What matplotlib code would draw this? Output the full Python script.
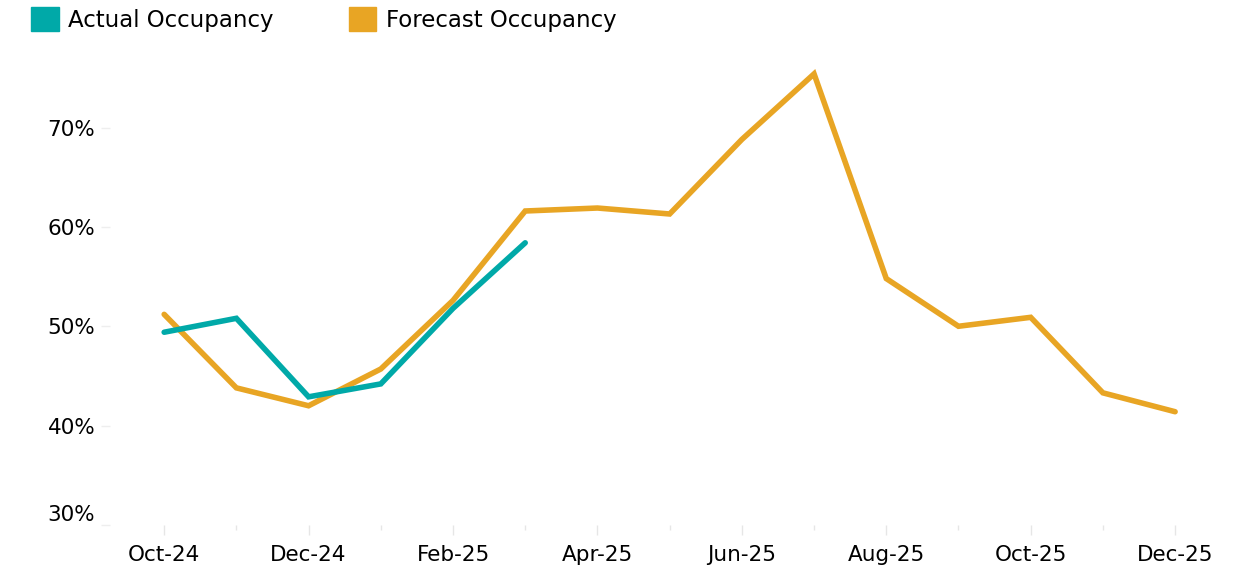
import matplotlib
matplotlib.use("Agg")
import matplotlib.pyplot as plt
from matplotlib.patches import Patch
from matplotlib.transforms import ScaledTranslation
import numpy as np

# ===============================
# Data
# ===============================
months = ["Oct-24", "Nov-24", "Dec-24", "Jan-25", "Feb-25", "Mar-25", "Apr-25",
          "May-25", "Jun-25", "Jul-25", "Aug-25", "Sep-25", "Oct-25", "Nov-25", "Dec-25"]
actual = [49.4, 50.8, 42.9, 44.2, 51.8, 58.4]
forecast = [51.2, 43.8, 42.0, 45.7, 52.6, 61.6, 61.9, 61.3, 68.8, 75.4,
            54.8, 50.0, 50.9, 43.3, 41.4]
y_ticks = [30, 40, 50, 60, 70]

TEAL = "#00A9A8"
GOLD = "#E8A524"
TICK_GREY = "#E6E6E6"

# ===============================
# Figure
# ===============================
fig = plt.figure(figsize=(12.46, 5.71), dpi=100)
ax = fig.add_axes([110 / 1246, 46 / 571, 1120 / 1246, 470 / 571])

x = np.arange(len(months))
ax.plot(x, forecast, color=GOLD, lw=4, solid_joinstyle="miter", solid_capstyle="round")
ax.plot(x[:len(actual)], actual, color=TEAL, lw=4, solid_joinstyle="miter", solid_capstyle="round")

ax.set_xlim(-0.75, 14.76)
ax.set_ylim(30, 77.3)

for s in ax.spines.values():
    s.set_visible(False)

# x axis: labels every other month, short ticks in between
ax.set_xticks(x[::2])
ax.set_xticklabels(months[::2])
ax.set_xticks(x[1::2], minor=True)
ax.tick_params(axis="x", which="major", length=7.2, width=1, color=TICK_GREY,
               labelsize=15.5, pad=7)
ax.tick_params(axis="x", which="minor", length=3.6, width=1, color=TICK_GREY)

# y axis
ax.set_yticks(y_ticks)
ax.set_yticklabels([f"{v}%" for v in y_ticks])
ax.tick_params(axis="y", length=6.5, width=1, color="#EEEEEE", labelsize=15.5, pad=4)
# bottom label sits a little above its tick, as in the original
lab0 = ax.get_yticklabels()[0]
lab0.set_transform(lab0.get_transform() + ScaledTranslation(0, 0.12, fig.dpi_scale_trans))

# legend
handles = [Patch(color=TEAL, label="Actual Occupancy"),
           Patch(color=GOLD, label="Forecast Occupancy")]
fig.legend(handles=handles, loc="upper left", bbox_to_anchor=(22 / 1246, 1 + 2 / 571),
           ncol=2, frameon=False, fontsize=16.5, handlelength=1.2, handleheight=1.2,
           handletextpad=0.4, columnspacing=3.3, borderaxespad=0)

fig.savefig("out.png", dpi=100)
